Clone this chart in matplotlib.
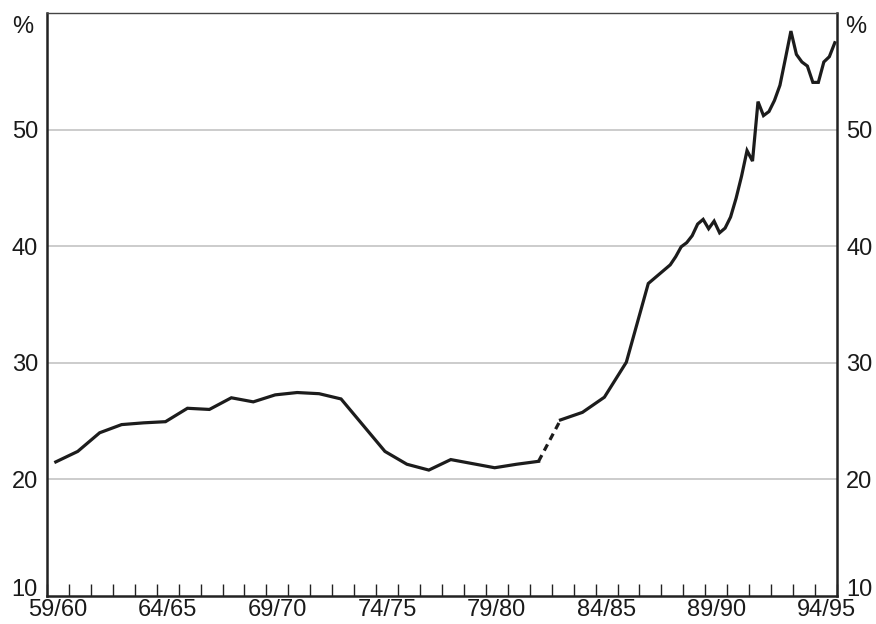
import matplotlib
matplotlib.use("Agg")
import matplotlib.pyplot as plt
import numpy as np

plt.rcParams['font.family'] = ['Liberation Sans', 'DejaVu Sans']

# fiscal-year categories (59/60 ... 94/95)
years = [f"{(59 + i) % 100:02d}/{(60 + i) % 100:02d}" for i in range(36)]
label_years = ["59/60", "64/65", "69/70", "74/75", "79/80", "84/85", "89/90", "94/95"]

# annual observations (year index 0 = 59/60)
annual_idx = list(range(0, 29))
annual_vals = [21.5, 22.4, 24.0, 24.7, 24.85, 24.95, 26.1, 26.0, 27.0, 26.65,
               27.25, 27.45, 27.35, 26.9, 24.65, 22.4, 21.3, 20.8, 21.7, 21.35,
               21.0, 21.3, 21.55, 25.1, 25.75, 27.05, 30.05, 36.8, 38.4]

# quarterly observations from 87/88 onwards
quarterly_vals = [38.4, 39.1, 39.95, 40.3, 40.9, 41.9, 42.3, 41.5, 42.15, 41.15,
                  41.55, 42.5, 44.1, 46.0, 48.2, 47.3, 52.4, 51.2, 51.55, 52.5,
                  53.8, 56.1, 58.45, 56.45, 55.8, 55.45, 54.05, 54.05, 55.8, 56.25,
                  57.45]

y_ticks = [10, 20, 30, 40, 50]

ann_x = np.array(annual_idx) + 0.4
ann_y = np.array(annual_vals)
q_x = 28.4 + 0.25 * np.arange(len(quarterly_vals))
q_y = np.array(quarterly_vals)

fig = plt.figure(figsize=(8.76, 6.24), dpi=100)
ax = fig.add_axes([47 / 876, 28 / 624, 790 / 876, 583 / 624])

fs = 17
tc = '#1a1a1a'
lc = '#1c1c1c'
lw = 2.3
# first solid part up to 81/82
ax.plot(ann_x[:23], ann_y[:23], color=lc, lw=lw, solid_joinstyle='miter')
# break in series
ax.plot(ann_x[22:24], ann_y[22:24], color=lc, lw=lw, ls=(0, (2.2, 1.6)))
# second solid part
x2 = np.concatenate([ann_x[23:28], q_x])
y2 = np.concatenate([ann_y[23:28], q_y])
ax.plot(x2, y2, color=lc, lw=lw, solid_joinstyle='miter')

ax.set_xlim(0, 36)
ax.set_ylim(10, 60)

ax.set_xticks(np.arange(0, 37))
ax.set_xticklabels([])
ax.tick_params(axis='x', which='major', direction='in', length=9, width=1.0, color='#222222')
ax.set_xticks([years.index(l) + 0.5 for l in label_years], minor=True)
ax.set_xticklabels(label_years, minor=True, fontsize=fs)
ax.tick_params(axis='x', which='minor', length=0, pad=2.5, labelcolor=tc)

ax.set_yticks(y_ticks)
ax.set_yticklabels(['' if v == 10 else str(v) for v in y_ticks], fontsize=fs)
ax.tick_params(axis='y', length=0, pad=6.5, labelright=True, labelleft=True, labelcolor=tc)
for v in y_ticks[1:]:
    ax.axhline(v, color='#c4c4c4', lw=1.2, zorder=0)

# bottom "10" labels, nudged up so they clear the year labels
ax.annotate(str(y_ticks[0]), xy=(0, y_ticks[0]), xycoords=('axes fraction', 'data'),
            xytext=(-6.5, 4.5), textcoords='offset points', ha='right', va='center',
            fontsize=fs, color=tc)
ax.annotate(str(y_ticks[0]), xy=(1, y_ticks[0]), xycoords=('axes fraction', 'data'),
            xytext=(6.5, 4.5), textcoords='offset points', ha='left', va='center',
            fontsize=fs, color=tc)

for s in ['left', 'right', 'bottom']:
    ax.spines[s].set_linewidth(1.8)
    ax.spines[s].set_color('#222222')
ax.spines['top'].set_linewidth(1.0)
ax.spines['top'].set_color('#444444')

ax.text(-0.018, 58.8, '%', transform=ax.get_yaxis_transform(), ha='right', va='center',
        fontsize=fs, color=tc)
ax.text(1.01, 58.8, '%', transform=ax.get_yaxis_transform(), ha='left', va='center',
        fontsize=fs, color=tc)

fig.savefig('out.png', dpi=100)
